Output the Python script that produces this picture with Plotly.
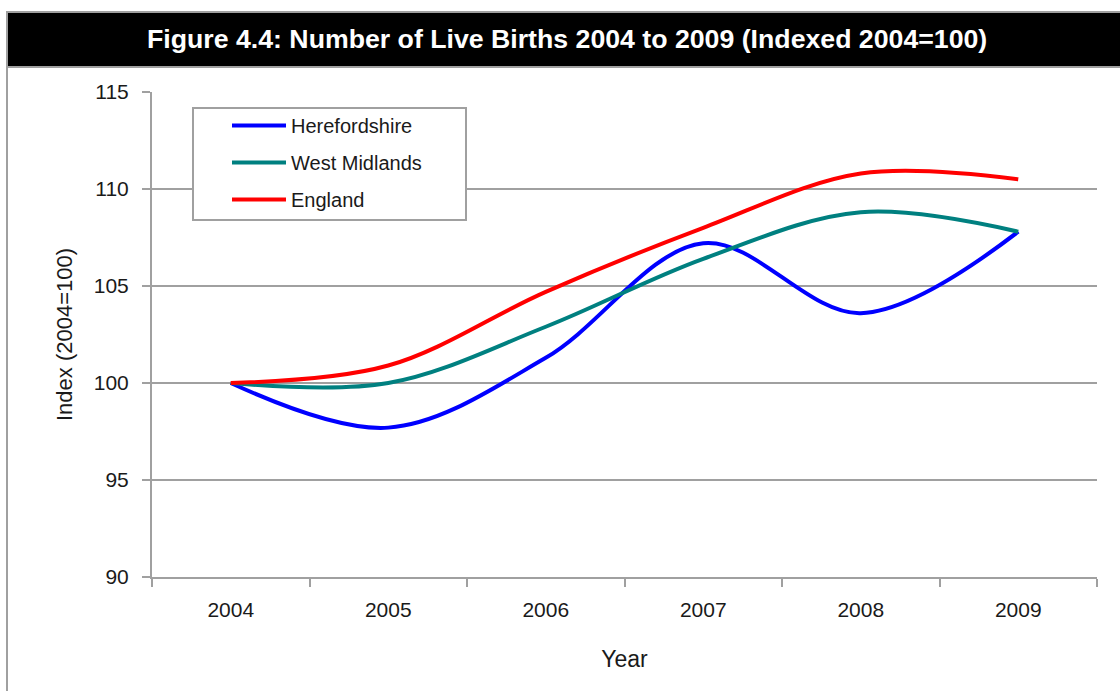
import plotly.graph_objects as go

years = ["2004", "2005", "2006", "2007", "2008", "2009"]
herefordshire = [100.0, 97.7, 101.3, 107.2, 103.6, 107.8]
west_midlands = [100.0, 100.0, 102.9, 106.4, 108.8, 107.8]
england = [100.0, 100.9, 104.7, 108.0, 110.8, 110.5]

title_text = "Figure 4.4: Number of Live Births 2004 to 2009 (Indexed 2004=100)"

W, H = 1120, 691
L, R, T, B = 152, 1097, 92, 577
pw, ph = R - L, B - T

def px(x):
    return (x - L) / pw

def py(y):
    return (B - y) / ph

FONT = "Liberation Sans, Arial, sans-serif"
GREY = "#a0a0a0"
TXT = "#1a1a1a"

fig = go.Figure()
series = [("Herefordshire", herefordshire, "#0000FF"),
          ("West Midlands", west_midlands, "#008080"),
          ("England", england, "#FF0000")]
for i, (name, vals, col) in enumerate(series):
    fig.add_trace(go.Scatter(
        x=years, y=vals, name=name, mode="lines",
        line=dict(color=col, width=4, shape="spline", smoothing=1.0),
        legendgroup=f"g{i}",
    ))

fig.update_layout(
    width=W, height=H,
    margin=dict(l=L, r=W - R, t=T, b=H - B),
    paper_bgcolor="white", plot_bgcolor="white",
    font=dict(family=FONT, size=21, color=TXT),
    showlegend=True,
    legend=dict(
        x=px(227), y=py(106), xanchor="left", yanchor="top",
        borderwidth=0, bgcolor="rgba(0,0,0,0)",
        font=dict(size=20, family=FONT, color=TXT),
        itemwidth=54, tracegroupgap=8, traceorder="grouped",
    ),
    xaxis=dict(
        type="category", range=[-0.5, 5.5], tickson="boundaries",
        ticks="outside", ticklen=8, tickcolor=GREY, tickwidth=2,
        showline=True, linecolor=GREY, linewidth=2,
        showgrid=False, zeroline=False,
        ticklabelstandoff=13,
        title=dict(text="Year", font=dict(size=23), standoff=31),
        tickfont=dict(size=21),
    ),
    yaxis=dict(
        range=[90, 115], dtick=5, tick0=90,
        ticks="outside", ticklen=8, tickcolor=GREY, tickwidth=2,
        showline=True, linecolor=GREY, linewidth=2,
        showgrid=True, gridcolor=GREY, gridwidth=2, zeroline=False,
        ticklabelstandoff=9,
        title=dict(text="Index (2004=100)", font=dict(size=22), standoff=15),
        tickfont=dict(size=21),
    ),
    shapes=[
        dict(type="rect", xref="paper", yref="paper",
             x0=px(7), x1=px(1130), y0=py(700), y1=py(12),
             line=dict(color=GREY, width=2), fillcolor="rgba(0,0,0,0)",
             layer="below"),
        dict(type="rect", xref="paper", yref="paper",
             x0=px(7), x1=px(1130), y0=py(67), y1=py(12),
             line=dict(color=GREY, width=2), fillcolor="black", layer="above"),
        dict(type="rect", xref="paper", yref="paper",
             x0=px(193), x1=px(466), y0=py(220), y1=py(108),
             line=dict(color=GREY, width=2), fillcolor="white", layer="above"),
    ],
    annotations=[
        dict(text="<b>" + title_text + "</b>", xref="paper", yref="paper",
             x=px(567), y=py(39), xanchor="center", yanchor="middle",
             showarrow=False, font=dict(size=26.7, color="white", family=FONT)),
    ],
)

fig.write_html("out.html", config={"displayModeBar": False},
               post_script="document.body.style.margin='0px';")
